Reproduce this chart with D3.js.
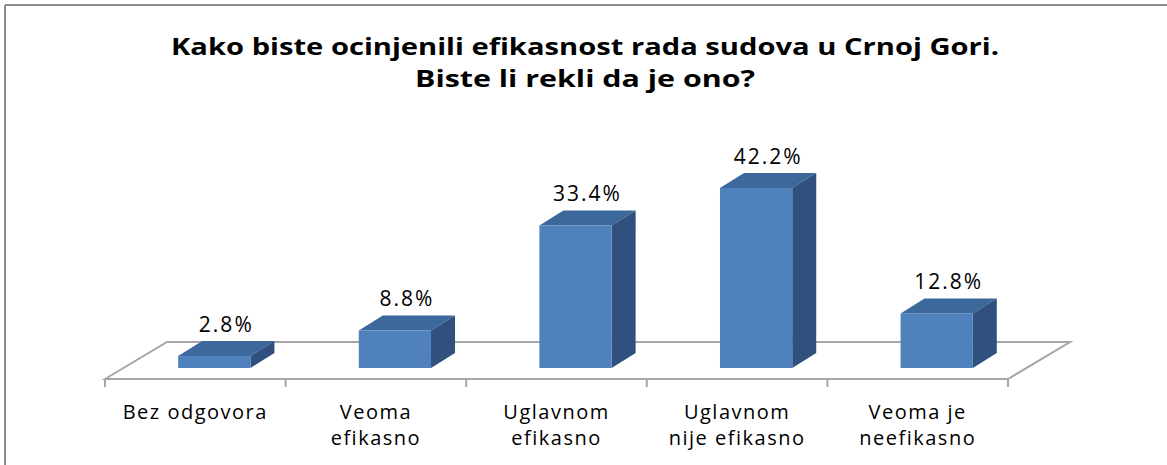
<!DOCTYPE html>
<head>
  <meta charset="utf-8">
  <script src="https://d3js.org/d3.v7.min.js"></script>
  <style>
    body { margin:0; background:#fff; }
    text { font-family: "Open Sans", sans-serif; fill: #000; }
  </style>
</head>
<body>
  <script>
    var categories = [
      ["Bez odgovora"],
      ["Veoma", "efikasno"],
      ["Uglavnom", "efikasno"],
      ["Uglavnom", "nije efikasno"],
      ["Veoma je", "neefikasno"]
    ];
    var values = [2.8, 8.8, 33.4, 42.2, 12.8];
    var valueLabels = ["2.8%", "8.8%", "33.4%", "42.2%", "12.8%"];
    var titleLines = ["Kako biste ocinjenili efikasnost rada sudova u Crnoj Gori.", "Biste li rekli da je ono?"];

    var W = 1167, H = 465;
    var svg = d3.select("body").append("svg").attr("width", W).attr("height", H);

    // frame (top + left only)
    svg.append("path").attr("d", "M5,5H1167M5,5V465")
      .attr("fill", "none").attr("stroke", "#8c8c8c").attr("stroke-width", 2);

    // title
    svg.selectAll(".title").data(titleLines).enter().append("text")
      .attr("x", 585).attr("y", function(d, i) { return 55 + i * 32; })
      .attr("text-anchor", "middle")
      .style("font-size", "24px").style("font-weight", "bold")
      .attr("textLength", function(d, i) { return i == 0 ? 828 : 340; })
      .attr("lengthAdjust", "spacingAndGlyphs")
      .text(function(d) { return d; });

    var floorY = 379, depthX = 62, depthY = -37;
    var x = d3.scaleBand().domain(d3.range(values.length))
      .range([105, 1008]).paddingInner(0.6).paddingOuter(0.3);
    var y = d3.scaleLinear().domain([0, 45]).range([368, 176]);

    // floor
    var x0 = x.range()[0], x1 = x.range()[1];
    svg.append("path")
      .attr("d", "M" + x0 + "," + floorY + "L" + (x0 + depthX) + "," + (floorY + depthY) +
        "L" + (x1 + depthX) + "," + (floorY + depthY) + "L" + x1 + "," + floorY + "Z")
      .attr("fill", "#fff").attr("stroke", "#a6a6a6").attr("stroke-width", 2);

    // ticks
    var step = x.step();
    svg.selectAll(".tick").data(d3.range(values.length + 1)).enter().append("line")
      .attr("x1", function(i) { return x0 + i * step; }).attr("x2", function(i) { return x0 + i * step; })
      .attr("y1", floorY).attr("y2", floorY + 8)
      .attr("stroke", "#a6a6a6").attr("stroke-width", 2);

    // bars
    var shiftX = 19, bdx = 24, bdy = -15;
    var bw = x.bandwidth();
    var bars = svg.selectAll(".bar").data(values).enter().append("g");
    // top face
    bars.append("path").attr("fill", "#3d689c")
      .attr("d", function(d, i) {
        var l = x(i) + shiftX, t = y(d);
        return "M" + l + "," + t + "L" + (l + bdx) + "," + (t + bdy) + "L" + (l + bw + bdx) + "," + (t + bdy) + "L" + (l + bw) + "," + t + "Z";
      });
    // side face
    bars.append("path").attr("fill", "#30517d")
      .attr("d", function(d, i) {
        var r = x(i) + shiftX + bw, t = y(d), b = y(0);
        return "M" + r + "," + t + "L" + (r + bdx) + "," + (t + bdy) + "L" + (r + bdx) + "," + (b + bdy) + "L" + r + "," + b + "Z";
      });
    // front face
    bars.append("rect").attr("fill", "#4f81bd")
      .attr("x", function(d, i) { return x(i) + shiftX; })
      .attr("y", function(d) { return y(d); })
      .attr("width", bw)
      .attr("height", function(d) { return y(0) - y(d); });

    // value labels
    svg.selectAll(".val").data(values).enter().append("text")
      .attr("x", function(d, i) { return x(i) + shiftX + bw / 2 + 12; })
      .attr("y", function(d) { return y(d) + bdy - 9; })
      .attr("text-anchor", "middle")
      .style("font-size", "21px").style("letter-spacing", "2px")
      .text(function(d, i) { return valueLabels[i]; });

    // category labels
    var cat = svg.selectAll(".cat").data(categories).enter().append("text")
      .attr("text-anchor", "middle")
      .style("font-size", "20px").style("letter-spacing", "1.5px");
    cat.selectAll("tspan").data(function(d, i) { return d.map(function(s) { return [s, i]; }); })
      .enter().append("tspan")
      .attr("x", function(d) { return x(d[1]) + bw / 2; })
      .attr("y", function(d, j) { return 419 + j * 26; })
      .text(function(d) { return d[0]; });
  </script>
</body>
